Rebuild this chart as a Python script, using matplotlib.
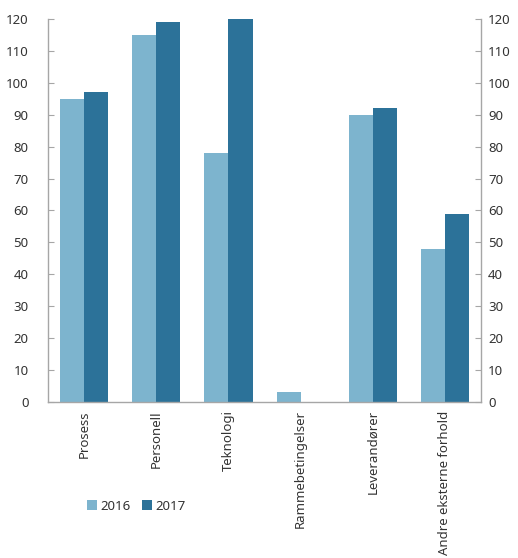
import matplotlib
matplotlib.use("Agg")
import matplotlib.pyplot as plt
import numpy as np

categories = ["Prosess", "Personell", "Teknologi", "Rammebetingelser",
              "Leverandører", "Andre eksterne forhold"]
values_2016 = [95, 115, 78, 3, 90, 48]
values_2017 = [97, 119, 120, 0, 92, 59]
series_labels = ["2016", "2017"]
yticks = list(range(0, 121, 10))

c2016 = "#7db4ce"
c2017 = "#2c7299"
grey = "#a6a6a6"
txt = "#333333"

plt.rcParams["font.family"] = ["Noto Sans", "DejaVu Sans"]

fig = plt.figure(figsize=(5.18, 5.58), dpi=100)
ax = fig.add_axes([0.0927, 0.2796, 0.836, 0.6864])

x = np.arange(len(categories))
w = 1 / 3
b1 = ax.bar(x - w / 2, values_2016, width=w, color=c2016, label=series_labels[0])
b2 = ax.bar(x + w / 2, values_2017, width=w, color=c2017, label=series_labels[1])

ax.set_xlim(-0.5, len(categories) - 0.5)
ax.set_ylim(0, 120)
ax.set_yticks(yticks)
ax.set_xticks(x)
ax.set_xticklabels(categories, rotation=90, fontsize=9.5, color=txt)
ax.tick_params(axis="x", length=0, pad=6)
ax.tick_params(axis="y", direction="in", length=4, color=grey, labelsize=9.5,
               labelcolor=txt, pad=14, left=True, right=True,
               labelleft=True, labelright=False)

# Right-hand value axis mirrors the left one
sec = ax.secondary_yaxis("right")
sec.set_yticks(yticks)
sec.tick_params(direction="in", length=0, labelsize=9.5, labelcolor=txt, pad=5)
sec.spines["right"].set_visible(False)

ax.spines["top"].set_visible(False)
for s in ("left", "right", "bottom"):
    ax.spines[s].set_color(grey)
    ax.spines[s].set_linewidth(1.0)

fig.legend(handles=[b1, b2], labels=series_labels, loc="center left",
           bbox_to_anchor=(0.145, 0.093), ncol=2, frameon=False,
           fontsize=9.5, handlelength=0.75, handleheight=0.75,
           handletextpad=0.3, columnspacing=0.8, labelcolor=txt)

fig.savefig("out.png", dpi=100)
